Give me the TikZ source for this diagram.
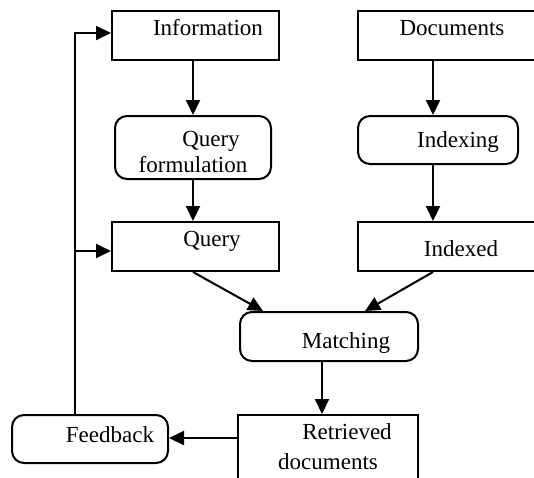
\documentclass[tikz,border=0pt]{standalone}
\usepackage{fontspec}
\setmainfont{Liberation Serif}
\usetikzlibrary{arrows.meta,fit}

\tikzset{
  box/.style={draw, line width=1pt, inner sep=0pt},
  rbox/.style={box, rounded corners=6pt},
  txt/.style={inner sep=0pt, anchor=base, font=\fontsize{11.5}{15}\selectfont},
  flow/.style={line width=1pt, -{Triangle[length=7.5pt,width=7pt]}},
}

\begin{document}
\begin{tikzpicture}[x=0.5pt,y=-0.5pt]
\useasboundingbox (0,0) rectangle (534,477);
\clip (0,0) rectangle (534,477);

% boxes
\node[box, fit={(112,11) (279,60)}] (info) {};
\node[box, fit={(358,11) (540,60)}] (docs) {};
\node[rbox, fit={(115,116) (271,179)}] (qform) {};
\node[rbox, fit={(358,116) (518,164)}] (idxing) {};
\node[box, fit={(112,222) (279,271)}] (query) {};
\node[box, fit={(358,222) (540,271)}] (idxed) {};
\node[rbox, fit={(240,312) (418,361)}] (match) {};
\node[box, fit={(238,415) (418,490)}] (retr) {};
\node[rbox, fit={(12,415) (168,463)}] (feed) {};

% texts
\node[txt] (info-t) at (208,35) {Information};
\node[txt] (docs-t) at (452,35) {Documents};
\node[txt] (qform-t1) at (211,146) {Query};
\node[txt] (qform-t2) at (193,172) {formulation};
\node[txt] (idxing-t) at (458,147) {Indexing};
\node[txt] (query-t) at (212,246) {Query};
\node[txt] (idxed-t) at (461,256) {Indexed};
\node[txt] (match-t) at (346,348) {Matching};
\node[txt] (retr-t1) at (347,439) {Retrieved};
\node[txt] (retr-t2) at (328,469) {documents};
\node[txt] (feed-t) at (110,442) {Feedback};

% connectors
\coordinate (loop) at (75,33);
\coordinate (loopq) at (75,251);
\draw[flow] (193,0 |- info.south) -- (193,0 |- qform.north);
\draw[flow] (193,0 |- qform.south) -- (193,0 |- query.north);
\draw[flow] (433,0 |- docs.south) -- (433,0 |- idxing.north);
\draw[flow] (433,0 |- idxing.south) -- (433,0 |- idxed.north);
\draw[flow] (193,0 |- query.south) -- (263,0 |- match.north);
\draw[flow] (433,0 |- idxed.south) -- (365,0 |- match.north);
\draw[flow] (322,0 |- match.south) -- (322,0 |- retr.north);
\draw[flow] (retr.west |- 0,438) -- (feed.east |- 0,438);
\draw[flow] (loop |- feed.north) -- (loop) -- (info.west |- loop);
\draw[flow] (loopq) -- (query.west |- loopq);

\end{tikzpicture}
\end{document}
